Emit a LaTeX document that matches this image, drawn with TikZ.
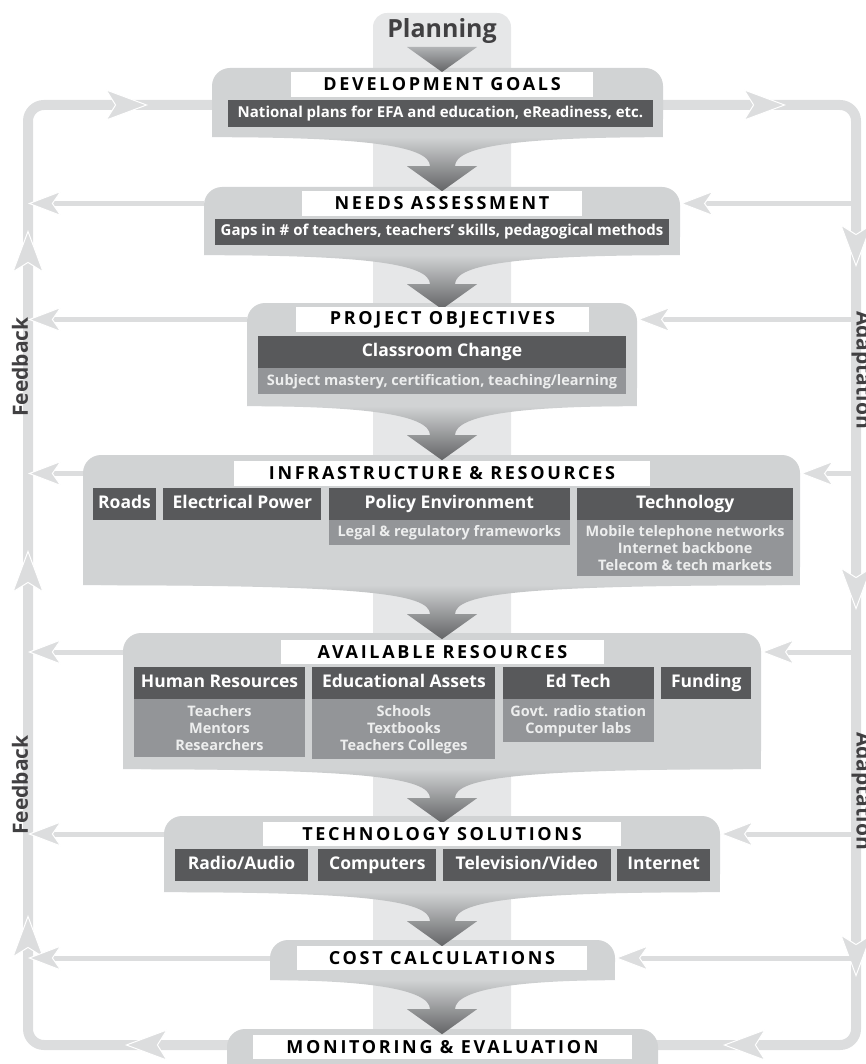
\documentclass[tikz,border=0pt]{standalone}
\usepackage{fontspec}
\setmainfont{Open Sans}
\newfontfamily\headfont[LetterSpace=15]{Open Sans}
\usepackage{xcolor}
\usetikzlibrary{arrows.meta, positioning, calc}

\definecolor{stagegray}{HTML}{D1D3D4}
\definecolor{bandgray}{HTML}{E6E7E8}
\definecolor{loopgray}{HTML}{DCDDDE}
\definecolor{darkbox}{HTML}{58595B}
\definecolor{midbox}{HTML}{939598}
\definecolor{midtext}{HTML}{EDEEEE}
\definecolor{labelgray}{HTML}{414042}
\definecolor{tipgray}{HTML}{636466}
\definecolor{headtop}{HTML}{B1B3B5}

\pgfdeclarelayer{back}
\pgfsetlayers{back,main}

% shaded funnel from a stage down to the next one
\newcommand{\funnel}[1]{%
  \shade[top color=stagegray, bottom color=tipgray]
    (#1.south west) -- (#1.south east)
    .. controls ($(axis |- #1.south)+(83,0)$) and ($(axis |- #1.south)+(13,8)$)
    .. ($(axis |- #1.south)+(13,29)$) -- ++(22,0)
    -- ($(axis |- #1.south)+(0,54)$) -- ($(axis |- #1.south)+(-35,29)$) -- ++(23,0)
    .. controls ($(axis |- #1.south)+(-12,8)$) and ($(axis |- #1.south)+(-82,0)$)
    .. (#1.south west) -- cycle;}

\begin{document}
\begin{tikzpicture}[
  x=1pt, y=-1pt,
  stage/.style={fill=stagegray, rounded corners=18pt, inner sep=0pt},
  title/.style={fill=white, inner sep=0pt, minimum height=25pt, font=\headfont\bfseries\fontsize{18}{20}\selectfont},
  dark/.style={fill=darkbox, text=white, inner sep=0pt, minimum height=32pt, text height=13pt, text depth=4pt, font=\bfseries\fontsize{17.5}{20}\selectfont},
  note/.style={fill=darkbox, text=white, inner sep=0pt, minimum height=27pt, text height=11pt, text depth=3.5pt, font=\bfseries\fontsize{15}{17}\selectfont},
  mid/.style={fill=midbox, text=midtext, inner sep=0pt, align=center, font=\bfseries\fontsize{14.5}{17}\selectfont},
  side/.style={text=labelgray, font=\bfseries\fontsize{21}{24}\selectfont},
  loopline/.style={draw=loopgray, line width=10pt},
  looptip/.style={draw=loopgray, line width=10pt, -{Stealth[length=43pt, width=32pt, inset=10pt, line width=1pt, color=white, fill=loopgray]}},
  fbarrow/.style={draw=loopgray, line width=5pt, -{Stealth[length=34pt, width=26pt, inset=9pt, line width=1pt, color=white, fill=loopgray]}}
]
\useasboundingbox (0,0) rectangle (866,1064);
\clip (0,0) rectangle (866,1064);
\coordinate (axis) at (442,0);
\coordinate (fb) at (28,105);
\coordinate (ad) at (856,1045);

% planning column
\fill[bandgray, rounded corners=14pt] (373,13) rectangle (511,1100);
\node[side, font=\bfseries\fontsize{25}{27}\selectfont] (planning) at (442,31) {Planning};

% stages
\node[stage, minimum width=451pt, minimum height=69pt] (goals) at (437.5,102.5) {};
\node[stage, minimum width=476pt, minimum height=68pt] (needs) at (442,221) {};
\node[stage, minimum width=390pt, minimum height=103pt] (objectives) at (442,354.5) {};
\node[stage, minimum width=717pt, minimum height=130pt] (infra) at (441.5,520) {};
\node[stage, minimum width=638pt, minimum height=136pt] (avail) at (442,701) {};
\node[stage, minimum width=556pt, minimum height=76pt] (tsol) at (442,854) {};
\node[stage, minimum width=345pt, minimum height=40pt] (cost) at (442.5,960) {};
\node[stage, minimum width=431pt, minimum height=56pt] (monitor) at (442.5,1057) {};
\foreach \s in {goals,needs,objectives,infra,avail,tsol,cost}
  \fill[stagegray] ([yshift=20pt]\s.south west) rectangle (\s.south east);

% downward arrows
\shade[top color=headtop, bottom color=tipgray] (407,47) -- (477,47) -- (442,72) -- cycle;
\foreach \s in {goals,needs,objectives,infra,avail,tsol,cost}
  \funnel{\s};

% stage titles
\node[title, minimum width=302pt] (t1) at (442,84.5) {DEVELOPMENT GOALS};
\node[title, minimum width=280pt] (t2) at (442,203.5) {NEEDS ASSESSMENT};
\node[title, minimum width=293pt] (t3) at (442.5,319.5) {PROJECT OBJECTIVES};
\node[title, minimum width=416pt] (t4) at (442,473.5) {INFRASTRUCTURE \& RESOURCES};
\node[title, minimum width=323pt, minimum height=24pt] (t5) at (442.5,652) {AVAILABLE RESOURCES};
\node[title, minimum width=358pt, minimum height=24pt] (t6) at (442,834) {TECHNOLOGY SOLUTIONS};
\node[title, minimum width=290pt, minimum height=24pt] (t7) at (442,958) {COST CALCULATIONS};
\node[title, minimum width=379pt, minimum height=24pt] (t8) at (442.5,1047) {MONITORING \& EVALUATION};

% contents
\node[note, minimum width=425pt] (goalsnote) at (440.5,113.5) {National plans for EFA and education, eReadiness, etc.};
\node[note, minimum width=454pt, minimum height=26pt] (needsnote) at (442,232) {Gaps in \# of teachers, teachers’ skills, pedagogical methods};

\node[dark, minimum width=368pt] (change) at (442,352) {Classroom Change};
\node[mid, below=0pt of change, minimum width=368pt, minimum height=26pt] (mastery) {Subject mastery, certification, teaching/learning};

\node[dark, minimum width=63pt] (roads) at (124.5,504) {Roads};
\node[dark, minimum width=158pt, right=7pt of roads] (power) {Electrical Power};
\node[dark, minimum width=241pt, right=7pt of power] (policy) {Policy Environment};
\node[dark, minimum width=216pt, right=7pt of policy] (tech) {Technology};
\node[mid, below=0pt of policy, minimum width=241pt, minimum height=25pt] (legal) {Legal \& regulatory frameworks};
\node[mid, below=0pt of tech, minimum width=216pt, minimum height=56pt] (techlist) {Mobile telephone networks\\Internet backbone\\Telecom \& tech markets};

\node[dark, minimum width=171pt] (humans) at (219.5,683) {Human Resources};
\node[dark, minimum width=183pt, right=7pt of humans] (assets) {Educational Assets};
\node[dark, minimum width=151pt, right=7pt of assets] (edtech) {Ed Tech};
\node[dark, minimum width=90pt, right=7pt of edtech] (funding) {Funding};
\node[mid, below=0pt of humans, minimum width=171pt, minimum height=58pt] (humanlist) {Teachers\\Mentors\\Researchers};
\node[mid, below=0pt of assets, minimum width=183pt, minimum height=60pt] (assetlist) {Schools\\Textbooks\\Teachers Colleges};
\node[mid, below=0pt of edtech, minimum width=151pt, minimum height=43pt] (edtechlist) {Govt. radio station\\Computer labs};

\node[dark, minimum width=133pt] (radio) at (241.5,865) {Radio/Audio};
\node[dark, minimum width=118pt, right=10pt of radio] (computers) {Computers};
\node[dark, minimum width=168pt, right=6pt of computers] (tv) {Television/Video};
\node[dark, minimum width=93pt, right=6pt of tv] (internet) {Internet};

% loop labels
\node[side, rotate=90] (feedback1) at (20,367) {Feedback};
\node[side, rotate=90] (feedback2) at (20,785) {Feedback};
\node[side, rotate=-90] (adapt1) at (862,370) {Adaptation};
\node[side, rotate=-90] (adapt2) at (862,791) {Adaptation};

% feedback and adaptation loop
\begin{pgfonlayer}{back}
\draw[loopline, rounded corners=16pt] (fb) rectangle (ad);
\foreach \x in {148,786}
  \draw[looptip] (\x-43,105) -- (\x,105);
\foreach \x in {125,723}
  \draw[looptip] (\x+43,1045) -- (\x,1045);
\foreach \y in {230,550,915}
  \draw[looptip] (28,\y+43) -- (28,\y);
\foreach \y in {267,610,977}
  \draw[looptip] (856,\y-43) -- (856,\y);
\foreach \s/\t in {needs/t2, objectives/t3, infra/t4, avail/t5, tsol/t6, cost/t7} {
  \draw[fbarrow] (\t -| \s.west) -- (\t -| fb);
  \draw[fbarrow] (\t -| ad) -- (\t -| \s.east);
}
\end{pgfonlayer}
\end{tikzpicture}
\end{document}
